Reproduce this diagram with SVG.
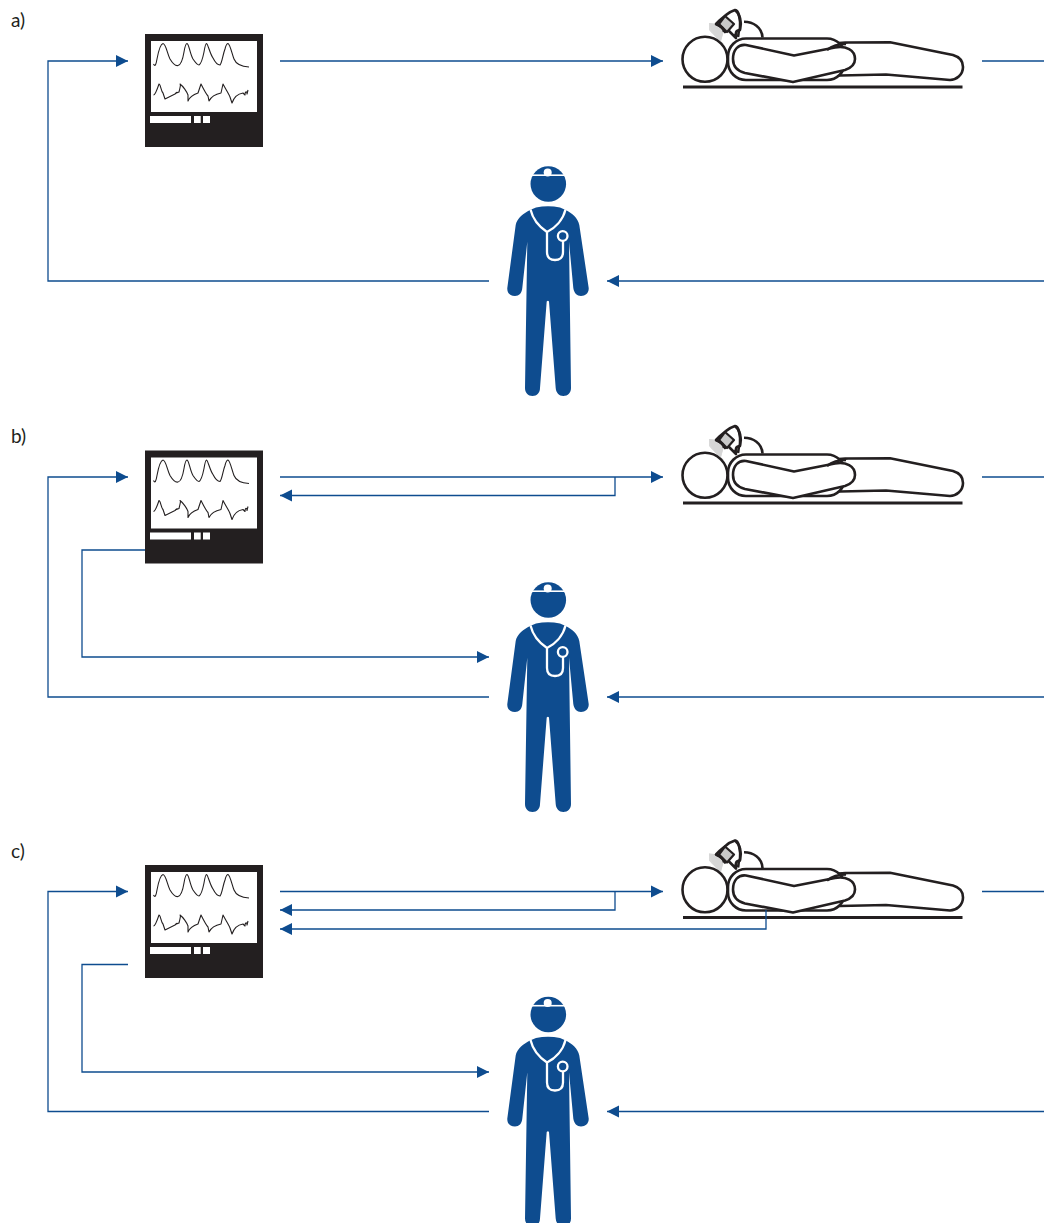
<svg xmlns="http://www.w3.org/2000/svg" xmlns:xlink="http://www.w3.org/1999/xlink" width="1044" height="1223" viewBox="0 0 1044 1223">
<style>
.lab{font-family:"Lato","Open Sans",sans-serif;font-size:19px;fill:#231f20}
.c{fill:none;stroke:#0e4c8f;stroke-width:1.3}
.p{fill:#fff;stroke:#231f20;stroke-width:2.6;stroke-linejoin:round}
.w{fill:none;stroke:#231f20;stroke-width:1.1;stroke-linejoin:round}
</style>
<defs>
<marker id="ah" markerUnits="userSpaceOnUse" markerWidth="13" markerHeight="13" refX="12" refY="6.5" orient="auto"><path d="M0 .5L12 6.5L0 12.5Z" fill="#0e4c8f"/></marker>
<g id="monitor">
<rect x="145" y="34" width="118" height="113" fill="#231f20"/>
<rect x="151" y="41" width="106" height="71" fill="#fff"/>
<rect x="150" y="116" width="41" height="7" fill="#fff"/><rect x="194" y="116" width="6.7" height="7" fill="#fff"/><rect x="203" y="116" width="7" height="7" fill="#fff"/>
<path class="w" d="M153.5 64C155 67 156 65 157 59C158.500 51 160.500 44 163 43.500C166 44 167 53 170 59C173 64 176 66 178 65.500C181 65 183 58 184 52C185 46 186 43.500 187 43.500C189 44 190 54 193 59C195 62 198 65 199 65C201 64 203 57 204 52C205 46 205.500 43.500 206.500 43.500C208 44 210 54 213 58C215 62 218 65 220 65C222 63 223 54 225 49C226 45 227 43.500 228 43.500C230 44 232 54 234 59C236 64 240 66.500 249 67"/>
<path class="w" d="M153.500 95C155 95 157 90 159 84C160.500 84 161 91 163 93L165 99L175 94C177 92 178 92 176.500 93L179 92C180 88 181 84 180 84C183 86 187 92 188 95L188 101C190 96 195 94 198 93L201 84C203 88 206 94 208 96L209 101C211 97 216 94 221 93L223 84C225 88 229 94 230 97L232 103C234 97 237 94 243 93L245 95C245 91 247 91 247 94L248 90"/>
</g>
<g id="patient">
<path d="M709 23C715 24 722 27 724 31L721 41L724 44L722 44C720 40 711 33 709 30Z" fill="#d9d9d9"/>
<path d="M710 23C716 23 722 26 724 28L721 41L720 43C716 37 711 32 709 23Z" fill="#d6d6d6"/>
<circle cx="705" cy="59.300" r="22.500" class="p"/>
<path class="p" d="M740 30C741 18 738 9.500 735 10C732 11 728 13 726 15L720 20L716 24C721 26 724 29 725 32L728 30L736 38C735 33 736 30 740 30Z" fill="none" style="fill:#fff"/>
<path d="M725 16L734 24L727 32L719 24Z" fill="#c9c9c9" stroke="#231f20" stroke-width="2.200" stroke-linejoin="round"/>
<path d="M716 24C721 26 724 29 724 32" fill="none" stroke="#231f20" stroke-width="2.600"/>
<path class="p" d="M735 10C740 14 742 22 740 29C738 31 739 33 738 37" style="fill:none"/>
<path d="M744 21.700C753 21.700 762 27 762.500 37.500" fill="none" stroke="#231f20" stroke-width="2.600"/>
<path class="p" d="M745 13C735 39 735 38 738 38.500Z" style="display:none"/>
<path class="p" d="M827 46C832 43 838 43 848 42.500L890 42.300L953 55C960 57 963 62 963 67C963 75 956 80 950 80L886 74.500L840 75.500L826 74Z"/>
<rect x="728" y="38.500" width="117" height="41.500" rx="18" class="p"/>
<path class="p" d="M746 45L794 55.500L835 47.500C846 45.500 855 50 855 59C855 65 851 68 845 70L793 82L745 73C737 71 733 66 733 59C733 50 738 44 746 45Z"/>
<path d="M827 50C832 46 840 44 846 44" fill="none" stroke="#231f20" stroke-width="2.600"/>
<line x1="683" y1="87" x2="962.500" y2="87" stroke="#231f20" stroke-width="2.800"/>
</g>
<g id="doctor" fill="#0e4c8f">
<circle cx="548.300" cy="184" r="17.800"/>
<rect x="530" y="174.400" width="37" height="1.600" fill="#fff"/>
<circle cx="547.700" cy="172.500" r="4" fill="#fff"/>
<path d="M536 207.500Q548 205 560 207.500L565.700 210C572 213 578 218 579.300 225L588.700 288C589 293 585.500 296 581 296C577 296 574 293 573.300 288L569 241.700L571 388C571 392.500 568 396 563.300 396C559 396 556 392.500 555.700 388L549 301.500Q548 300 546.700 301.500L540 388C540 392.500 537 396 532.500 396C528 396 525 392.500 525 388L527.300 241.700L522.300 288C522 293 519 296 515 296C510 296 507 293 507.300 288L515.700 225C517 218 524 213 530 210Z"/>
<path d="M530.500 209.500C533 220 541 228 547 232C555 228 563 220 565.500 209.500M547 232V252C547 257 550 260 555 260C560 260 563 257 563 252V241" fill="none" stroke="#fff" stroke-width="2.300"/>
<circle cx="562.700" cy="236" r="4.800" fill="#0e4c8f" stroke="#fff" stroke-width="2.300"/>
</g>
</defs>
<g id="connectors">
<g id="conn-a">
<path class="c" d="M280 61H663" marker-end="url(#ah)"/>
<path class="c" d="M982 61H1044"/>
<path class="c" d="M489 281H48V61H128" marker-end="url(#ah)"/>
<path class="c" d="M1044 281H607" marker-end="url(#ah)"/>
</g>
<g id="conn-b">
<path class="c" d="M280 477H663" marker-end="url(#ah)"/>
<path class="c" d="M982 477H1044"/>
<path class="c" d="M615 477V495.500H280" marker-end="url(#ah)"/>
<path class="c" d="M145 550H82V657H489" marker-end="url(#ah)"/>
<path class="c" d="M489 697H48V477H128" marker-end="url(#ah)"/>
<path class="c" d="M1044 697H607" marker-end="url(#ah)"/>
</g>
<g id="conn-c">
<path class="c" d="M280 891.500H663" marker-end="url(#ah)"/>
<path class="c" d="M982 891.500H1044"/>
<path class="c" d="M615 891.500V910H280" marker-end="url(#ah)"/>
<path class="c" d="M128 964.500H82V1072H489" marker-end="url(#ah)"/>
<path class="c" d="M489 1111.500H48V891.500H128" marker-end="url(#ah)"/>
<path class="c" d="M1044 1111.500H607" marker-end="url(#ah)"/>
</g>
</g>
<g id="panel-a-label"><text class="lab" x="11" y="27">a)</text></g>
<g id="monitor-a"><use xlink:href="#monitor" href="#monitor"/></g>
<g id="patient-a"><use href="#patient"/></g>
<g id="doctor-a"><use href="#doctor"/></g>
<g id="panel-b-label"><text class="lab" x="11" y="443">b)</text></g>
<g id="monitor-b"><use href="#monitor" y="416.500"/></g>
<g id="patient-b"><use href="#patient" y="416"/></g>
<g id="doctor-b"><use href="#doctor" y="416"/></g>
<g id="panel-c-label"><text class="lab" x="11" y="858">c)</text></g>
<g id="monitor-c"><use href="#monitor" y="831"/></g>
<g id="patient-c"><use href="#patient" y="830.500"/></g>
<g id="doctor-c"><use href="#doctor" y="830.500"/></g>
<path class="c" d="M766 910V929H280" marker-end="url(#ah)"/>
</svg>
